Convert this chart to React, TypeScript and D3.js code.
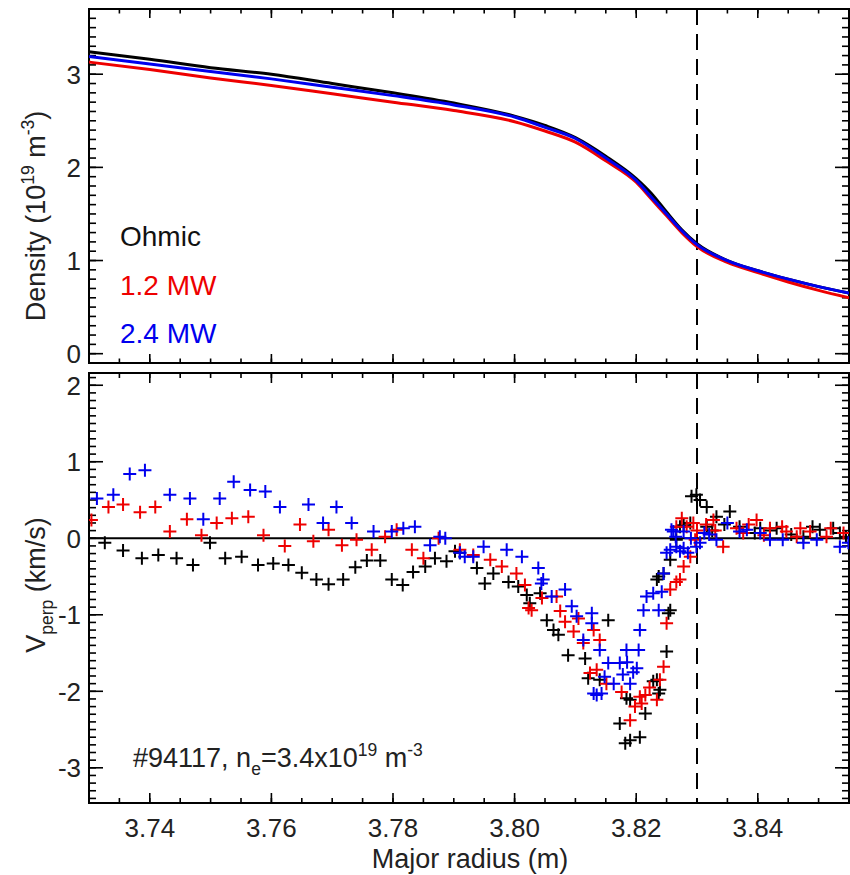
import React, { useEffect, useRef } from "react";
import * as d3 from "d3";

// density profiles, 10^19 m^-3
const radius = [3.73, 3.74, 3.75, 3.76, 3.77, 3.78, 3.79, 3.8, 3.805, 3.81, 3.815, 3.82, 3.8225, 3.825, 3.8275, 3.83, 3.835, 3.84, 3.845, 3.85, 3.855];
const densOhmic = [3.24, 3.16, 3.07, 3.0, 2.9, 2.8, 2.69, 2.55, 2.45, 2.32, 2.12, 1.88, 1.72, 1.52, 1.33, 1.18, 1.0, 0.89, 0.8, 0.72, 0.65];
const dens12 = [3.13, 3.05, 2.96, 2.88, 2.79, 2.7, 2.61, 2.49, 2.39, 2.27, 2.07, 1.84, 1.66, 1.48, 1.3, 1.15, 0.98, 0.87, 0.77, 0.68, 0.6];
const dens24 = [3.19, 3.11, 3.03, 2.95, 2.86, 2.77, 2.67, 2.54, 2.43, 2.31, 2.1, 1.86, 1.68, 1.5, 1.32, 1.17, 1.0, 0.89, 0.8, 0.72, 0.65];

// Vperp (km/s) as [R, V]
const vOhmic: [number, number][] = [
  [3.7326, -0.06], [3.7356, -0.16], [3.7387, -0.26], [3.7414, -0.22], [3.7444, -0.26], [3.7471, -0.35],
  [3.7499, -0.06], [3.7524, -0.26], [3.7551, -0.24], [3.7578, -0.35], [3.7603, -0.33], [3.7628, -0.35],
  [3.765, -0.45], [3.7674, -0.54], [3.7694, -0.6], [3.7718, -0.54], [3.7738, -0.38], [3.7757, -0.29],
  [3.7779, -0.29], [3.7798, -0.54], [3.7816, -0.61], [3.7833, -0.44], [3.7853, -0.37], [3.7869, -0.26],
  [3.7888, -0.3], [3.7902, -0.17], [3.791, -0.19], [3.7938, -0.39], [3.7951, -0.59], [3.7965, -0.46],
  [3.799, -0.57], [3.8006, -0.63], [3.802, -0.74], [3.8025, -0.85], [3.8042, -0.72], [3.8053, -1.07],
  [3.8064, -1.2], [3.8072, -1.26], [3.8088, -1.53], [3.8116, -1.57], [3.8121, -1.83], [3.814, -1.85],
  [3.8154, -1.07], [3.8173, -2.42], [3.8182, -2.68], [3.819, -2.64], [3.8206, -2.6], [3.8215, -2.29],
  [3.8184, -2.09], [3.819, -2.11], [3.8234, -1.85], [3.8239, -1.98], [3.8237, -2.03], [3.8228, -1.87],
  [3.825, -1.48], [3.8253, -0.98], [3.8256, -0.94], [3.8234, -0.54], [3.8237, -0.5], [3.8245, -0.46],
  [3.8256, -0.28], [3.8266, -0.02], [3.8272, 0.15], [3.8278, 0.17], [3.8289, 0.2], [3.8291, 0.55],
  [3.8299, 0.57], [3.8305, 0.5], [3.8316, 0.41], [3.8316, 0.15], [3.8332, 0.28], [3.8354, 0.35],
  [3.8325, 0.1], [3.8345, 0.18], [3.837, 0.15], [3.8395, 0.07], [3.8404, 0.13], [3.842, 0.1],
  [3.8431, 0.13], [3.8455, 0.05], [3.8475, 0.02], [3.849, 0.15], [3.8502, 0.11], [3.8524, 0.13],
  [3.8535, 0.07], [3.8545, 0.02],
];
const v12: [number, number][] = [
  [3.7304, 0.24], [3.7332, 0.41], [3.7356, 0.44], [3.7384, 0.34], [3.7409, 0.41], [3.7433, 0.09],
  [3.7461, 0.25], [3.7485, 0.04], [3.751, 0.2], [3.7535, 0.26], [3.7562, 0.28], [3.7587, 0.04],
  [3.7622, -0.1], [3.7647, 0.18], [3.7669, -0.04], [3.7694, 0.11], [3.7716, -0.09], [3.774, -0.02],
  [3.7765, -0.15], [3.7787, 0.02], [3.7806, 0.11], [3.7831, -0.15], [3.785, -0.26], [3.7875, 0.0],
  [3.791, -0.15], [3.7932, -0.22], [3.796, -0.28], [3.7979, -0.37], [3.8003, -0.46], [3.8017, -0.61],
  [3.8023, -0.91], [3.8028, -0.94], [3.8045, -0.78], [3.8069, -0.76], [3.8083, -1.09], [3.8097, -1.22],
  [3.8113, -1.37], [3.8124, -1.76], [3.813, -1.2], [3.814, -1.33], [3.8135, -1.72], [3.8151, -1.9],
  [3.8176, -2.01], [3.819, -2.38], [3.8206, -2.07], [3.8209, -2.16], [3.8234, -2.11], [3.8239, -1.85],
  [3.8198, -2.2], [3.8215, -2.05], [3.8222, -1.95], [3.8105, -1.05], [3.8075, -0.95],
  [3.8245, -1.68], [3.825, -1.11], [3.8256, -0.67], [3.8266, -0.57], [3.8272, -0.54], [3.8278, -0.37],
  [3.8289, -0.24], [3.8297, -0.02], [3.8266, 0.15], [3.8283, 0.15], [3.8294, 0.2], [3.8275, 0.26],
  [3.83, 0.1], [3.8315, 0.18], [3.8327, 0.24], [3.833, 0.1], [3.8343, -0.11], [3.8365, 0.13],
  [3.8376, 0.07], [3.8385, 0.18], [3.8398, 0.24], [3.841, 0.04], [3.842, 0.13], [3.8447, 0.09],
  [3.844, 0.15], [3.8464, 0.02], [3.847, 0.13], [3.8486, 0.09], [3.8513, 0.02], [3.852, 0.13],
  [3.8541, 0.07],
];
const v24: [number, number][] = [
  [3.7313, 0.52], [3.734, 0.57], [3.7367, 0.84], [3.7392, 0.89], [3.7433, 0.57], [3.7466, 0.52],
  [3.7488, 0.25], [3.7515, 0.52], [3.7538, 0.74], [3.7565, 0.63], [3.759, 0.61], [3.7614, 0.41],
  [3.7661, 0.44], [3.7685, 0.2], [3.7707, 0.41], [3.7732, 0.2], [3.7768, 0.09], [3.7798, 0.09],
  [3.7817, 0.13], [3.7836, 0.15], [3.7861, -0.09], [3.7877, 0.02], [3.7886, 0.0], [3.791, -0.19],
  [3.7918, -0.24], [3.7932, -0.24], [3.7949, -0.11], [3.7987, -0.15], [3.8012, -0.24], [3.8039, -0.39],
  [3.8044, -0.59], [3.8047, -0.54], [3.8061, -0.76], [3.8083, -0.67], [3.8094, -0.89], [3.8113, -1.33],
  [3.8127, -0.98], [3.8127, -1.11], [3.813, -2.03], [3.8135, -2.05], [3.8143, -2.03], [3.814, -1.46],
  [3.8148, -1.81], [3.8154, -1.63], [3.8163, -1.9], [3.8173, -1.63], [3.8184, -1.46], [3.819, -1.9],
  [3.8185, -1.62], [3.8195, -1.75], [3.8178, -1.78], [3.8102, -1.02],
  [3.8201, -1.7], [3.8204, -1.46], [3.8206, -1.2], [3.8212, -0.94], [3.8217, -0.76], [3.8228, -0.72],
  [3.8237, -0.94], [3.8242, -0.7], [3.8245, -0.46], [3.825, -0.19], [3.8256, -0.15], [3.8258, 0.11],
  [3.8261, 0.09], [3.8265, 0.02], [3.8266, -0.11], [3.8272, -0.17], [3.8278, -0.13], [3.8278, 0.09],
  [3.8285, -0.19], [3.829, 0.0], [3.8299, -0.11], [3.8305, -0.06], [3.8312, 0.07], [3.832, 0.05],
  [3.8332, -0.02], [3.835, 0.2], [3.837, 0.09], [3.8382, 0.11], [3.8404, 0.07], [3.842, -0.02],
  [3.8441, -0.02], [3.8475, -0.06], [3.8497, -0.02], [3.8535, -0.11], [3.8549, -0.06],
];

const seriesNames = ["Ohmic", "1.2 MW", "2.4 MW"];
const seriesColors = ["#000000", "#ee0000", "#0000ee"];

const xTicks = [3.74, 3.76, 3.78, 3.8, 3.82, 3.84];
const xTickLabels = ["3.74", "3.76", "3.78", "3.80", "3.82", "3.84"];
const densTicks = [0, 1, 2, 3];
const vTicks = [-3, -2, -1, 0, 1, 2];
const separatrix = 3.83;

const FONT = "'Liberation Sans', Arial, Helvetica, sans-serif";

type Part = { t: string; s?: "sup" | "sub" };

// writes text with super/subscripts as tspans
const richText = (sel: any, parts: Part[], size: number) => {
  let prev = 0;
  parts.forEach((p) => {
    const shift = p.s === "sup" ? -0.42 * size : p.s === "sub" ? 0.28 * size : 0;
    sel
      .append("tspan")
      .attr("dy", shift - prev)
      .attr("font-size", p.s ? size * 0.65 : size)
      .text(p.t);
    prev = shift;
  });
};

const App = () => {
  const svgRef = useRef<SVGSVGElement>(null);

  useEffect(() => {
    const svg = d3.select(svgRef.current);
    svg.selectAll("*").remove();

    const x = d3.scaleLinear().domain([3.73, 3.855]).range([89, 849]);
    const yD = d3.scaleLinear().domain([-0.1, 3.7]).range([363, 9]);
    const yV = d3.scaleLinear().domain([-3.46, 2.16]).range([803, 373]);
    const [xL, xR] = x.range();
    const xMinor = d3.ticks(x.domain()[0], x.domain()[1], 25);

    const drawFrame = (y: any, yMajor: number[], xLen: number, name: string, xLabels: boolean) => {
      const [yB, yT] = y.range();
      const g = svg.append("g");
      const yMinor = d3.ticks(y.domain()[0], y.domain()[1], Math.round((y.domain()[1] - y.domain()[0]) * 10));
      const stroke = (sel: any) => sel.attr("stroke", "#000").attr("stroke-width", 1.6);

      // x ticks, bottom and top, pointing inward
      xMinor.forEach((v) => {
        stroke(g.append("line").attr("x1", x(v)).attr("x2", x(v)).attr("y1", yB).attr("y2", yB - xLen / 2));
        stroke(g.append("line").attr("x1", x(v)).attr("x2", x(v)).attr("y1", yT).attr("y2", yT + xLen / 2));
      });
      xTicks.forEach((v) => {
        stroke(g.append("line").attr("x1", x(v)).attr("x2", x(v)).attr("y1", yB).attr("y2", yB - xLen));
        stroke(g.append("line").attr("x1", x(v)).attr("x2", x(v)).attr("y1", yT).attr("y2", yT + xLen));
      });
      // y ticks, left and right
      yMinor.forEach((v) => {
        stroke(g.append("line").attr("x1", xL).attr("x2", xL + 7).attr("y1", y(v)).attr("y2", y(v)));
        stroke(g.append("line").attr("x1", xR).attr("x2", xR - 7).attr("y1", y(v)).attr("y2", y(v)));
      });
      yMajor.forEach((v) => {
        stroke(g.append("line").attr("x1", xL).attr("x2", xL + 14).attr("y1", y(v)).attr("y2", y(v)));
        stroke(g.append("line").attr("x1", xR).attr("x2", xR - 14).attr("y1", y(v)).attr("y2", y(v)));
      });

      g.append("rect")
        .attr("x", xL)
        .attr("y", yT)
        .attr("width", xR - xL)
        .attr("height", yB - yT)
        .attr("fill", "none")
        .attr("stroke", "#000")
        .attr("stroke-width", 2);

      g.selectAll(".ylab")
        .data(yMajor)
        .join("text")
        .attr("x", 81)
        .attr("y", (d) => y(d))
        .attr("dy", "0.36em")
        .attr("text-anchor", "end")
        .attr("font-family", FONT)
        .attr("font-size", 26)
        .attr("fill", "#222")
        .text((d) => String(d));

      if (xLabels) {
        g.selectAll(".xlab")
          .data(xTicks)
          .join("text")
          .attr("x", (d) => x(d))
          .attr("y", 837)
          .attr("text-anchor", "middle")
          .attr("font-family", FONT)
          .attr("font-size", 26)
          .attr("fill", "#222")
          .text((d, i) => xTickLabels[i]);
      }

      svg
        .append("clipPath")
        .attr("id", name)
        .append("rect")
        .attr("x", xL)
        .attr("y", yT)
        .attr("width", xR - xL)
        .attr("height", yB - yT);

      // separatrix
      g.append("line")
        .attr("x1", x(separatrix))
        .attr("x2", x(separatrix))
        .attr("y1", yT)
        .attr("y2", yB)
        .attr("stroke", "#000")
        .attr("stroke-width", 2)
        .attr("stroke-dasharray", "16 9");
    };

    drawFrame(yD, densTicks, 9, "clipTop", false);
    drawFrame(yV, vTicks, 10, "clipBot", true);

    // density lines
    const line = d3
      .line<number>()
      .x((d, i) => x(radius[i]))
      .y((d) => yD(d))
      .curve(d3.curveMonotoneX);
    const top = svg.append("g").attr("clip-path", "url(#clipTop)");
    [densOhmic, dens12, dens24].forEach((s, k) => {
      top
        .append("path")
        .attr("d", line(s))
        .attr("fill", "none")
        .attr("stroke", seriesColors[k])
        .attr("stroke-width", 3);
    });

    // legend
    seriesNames.forEach((n, k) => {
      svg
        .append("text")
        .attr("x", 120)
        .attr("y", 246 + k * 48.5)
        .attr("font-family", FONT)
        .attr("font-size", 28)
        .attr("fill", k === 0 ? "#111" : seriesColors[k])
        .text(n);
    });

    // Vperp
    const bot = svg.append("g").attr("clip-path", "url(#clipBot)");
    bot
      .append("line")
      .attr("x1", xL)
      .attr("x2", xR)
      .attr("y1", yV(0))
      .attr("y2", yV(0))
      .attr("stroke", "#000")
      .attr("stroke-width", 2);

    const s = 6.5;
    const cross = `M${-s},0H${s}M0,${-s}V${s}`;
    [vOhmic, v12, v24].forEach((pts, k) => {
      bot
        .append("g")
        .selectAll("path")
        .data(pts)
        .join("path")
        .attr("transform", (d) => `translate(${x(d[0])},${yV(d[1])})`)
        .attr("d", cross)
        .attr("fill", "none")
        .attr("stroke", seriesColors[k])
        .attr("stroke-width", 2);
    });

    // labels
    const yTitle1 = svg
      .append("text")
      .attr("transform", "translate(45,216) rotate(-90)")
      .attr("text-anchor", "middle")
      .attr("font-family", FONT)
      .attr("fill", "#222");
    richText(yTitle1, [{ t: "Density (10" }, { t: "19", s: "sup" }, { t: " m" }, { t: "-3", s: "sup" }, { t: ")" }], 27);

    const yTitle2 = svg
      .append("text")
      .attr("transform", "translate(45,585) rotate(-90)")
      .attr("text-anchor", "middle")
      .attr("font-family", FONT)
      .attr("fill", "#222");
    richText(yTitle2, [{ t: "V" }, { t: "perp", s: "sub" }, { t: " (km/s)" }], 27);

    svg
      .append("text")
      .attr("x", 470)
      .attr("y", 868)
      .attr("text-anchor", "middle")
      .attr("font-family", FONT)
      .attr("font-size", 27)
      .attr("fill", "#222")
      .text("Major radius (m)");

    const note = svg
      .append("text")
      .attr("x", 133)
      .attr("y", 767)
      .attr("font-family", FONT)
      .attr("fill", "#222");
    richText(
      note,
      [{ t: "#94117, n" }, { t: "e", s: "sub" }, { t: "=3.4x10" }, { t: "19", s: "sup" }, { t: " m" }, { t: "-3", s: "sup" }],
      27
    );
  }, []);

  return (
    <svg
      ref={svgRef}
      width={850}
      height={875}
      style={{ position: "absolute", left: 0, top: 0, background: "#fff" }}
    />
  );
};

export default App;
